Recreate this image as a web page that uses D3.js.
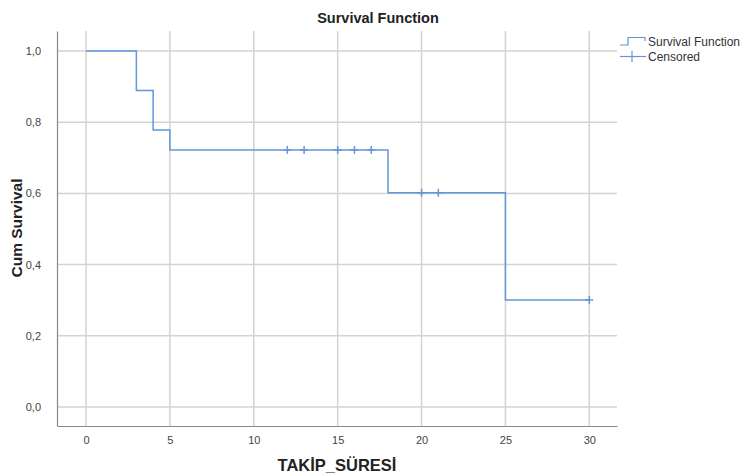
<!DOCTYPE html>
<html><head><meta charset="utf-8">
<script src="https://cdn.jsdelivr.net/npm/d3@7"></script>
<style>body{margin:0;background:#fff;} svg{display:block;}</style>
</head><body>
<svg id="chart" width="741" height="475"></svg>
<script>
// Data
const stepTimes = [0, 3, 4, 5, 18, 25];
const stepSurvival = [1.0, 0.8889, 0.7778, 0.7222, 0.6019, 0.3009];
const endTime = 30;
const censoredTimes = [12, 13, 15, 16, 17, 20, 21, 30];
const censoredSurvival = [0.7222, 0.7222, 0.7222, 0.7222, 0.7222, 0.6019, 0.6019, 0.3009];
const xTicks = [0, 5, 10, 15, 20, 25, 30];
const yTicks = [0, 0.2, 0.4, 0.6, 0.8, 1.0];
const legendLabels = ["Survival Function", "Censored"];

const svg = d3.select("#chart");
const L = 57, R = 617, T = 31, B = 426;
const x = d3.scaleLinear().domain([-1.73, 31.65]).range([L, R]);
const y = d3.scaleLinear().domain([-0.0534, 1.0562]).range([B, T]);
const lineColor = "#6396d9";
const gridColor = "#d3d3d3";
const font = "Arial,'Liberation Sans',sans-serif";

// grid
svg.append("g").selectAll("line").data(xTicks).join("line")
  .attr("x1", d => x(d)).attr("x2", d => x(d)).attr("y1", T).attr("y2", B)
  .attr("stroke", gridColor).attr("stroke-width", 1.5);
svg.append("g").selectAll("line").data(yTicks).join("line")
  .attr("x1", L).attr("x2", R).attr("y1", d => y(d)).attr("y2", d => y(d))
  .attr("stroke", gridColor).attr("stroke-width", 1.5);

// axes
const xAxis = d3.axisBottom(x).tickValues(xTicks).tickSize(0).tickPadding(10).tickFormat(d3.format("d"));
const gx = svg.append("g").attr("transform", `translate(0,${B})`).call(xAxis);
gx.select(".domain").attr("stroke", "#888").attr("stroke-width", 1.2);
gx.selectAll("text").attr("font-family", font).attr("font-size", 11).attr("fill", "#444");

const yAxis = d3.axisLeft(y).tickValues(yTicks).tickSize(0).tickPadding(16)
  .tickFormat(d => d3.format(".1f")(d).replace(".", ","));
const gy = svg.append("g").attr("transform", `translate(${L},0)`).call(yAxis);
gy.select(".domain").attr("stroke", "#888").attr("stroke-width", 1.2);
gy.selectAll("text").attr("font-family", font).attr("font-size", 11).attr("fill", "#444");

// step line
const pts = stepTimes.map((t, i) => [t, stepSurvival[i]]);
pts.push([endTime, stepSurvival[stepSurvival.length - 1]]);
const line = d3.line().x(d => x(d[0])).y(d => y(d[1])).curve(d3.curveStepAfter);
svg.append("path").datum(pts).attr("d", line)
  .attr("fill", "none").attr("stroke", lineColor).attr("stroke-width", 1.5);

// censored marks
const cg = svg.append("g");
censoredTimes.forEach((t, i) => {
  const cx = x(t), cy = y(censoredSurvival[i]);
  cg.append("line").attr("x1", cx - 4).attr("x2", cx + 4).attr("y1", cy).attr("y2", cy)
    .attr("stroke", lineColor).attr("stroke-width", 1.5);
  cg.append("line").attr("x1", cx).attr("x2", cx).attr("y1", cy - 4).attr("y2", cy + 4)
    .attr("stroke", lineColor).attr("stroke-width", 1.5);
});

// title
svg.append("text").attr("x", 378).attr("y", 23).attr("text-anchor", "middle")
  .attr("font-family", font).attr("font-weight", "bold")
  .attr("font-size", 14.5).attr("fill", "#222").text("Survival Function");

// axis titles
svg.append("text").attr("x", 337).attr("y", 471).attr("text-anchor", "middle")
  .attr("font-family", font).attr("font-weight", "bold")
  .attr("font-size", 16.5).attr("fill", "#222").text("TAKİP_SÜRESİ");
svg.append("text").attr("transform", "translate(22,228) rotate(-90)").attr("text-anchor", "middle")
  .attr("font-family", font).attr("font-weight", "bold")
  .attr("font-size", 15.5).attr("fill", "#222").text("Cum Survival");

// legend
const lg = svg.append("g");
lg.append("path").attr("d", "M620,45 H628 V37.5 H645 V41")
  .attr("fill", "none").attr("stroke", lineColor).attr("stroke-width", 1.2);
lg.append("line").attr("x1", 620).attr("x2", 646).attr("y1", 56.5).attr("y2", 56.5)
  .attr("stroke", lineColor).attr("stroke-width", 1.2);
lg.append("line").attr("x1", 632).attr("x2", 632).attr("y1", 51).attr("y2", 62)
  .attr("stroke", lineColor).attr("stroke-width", 1.2);
lg.selectAll("text").data(legendLabels).join("text")
  .attr("x", 648).attr("y", (d, i) => 46 + i * 15)
  .attr("font-family", font).attr("font-size", 12).attr("fill", "#333").text(d => d);
</script>
</body></html>
